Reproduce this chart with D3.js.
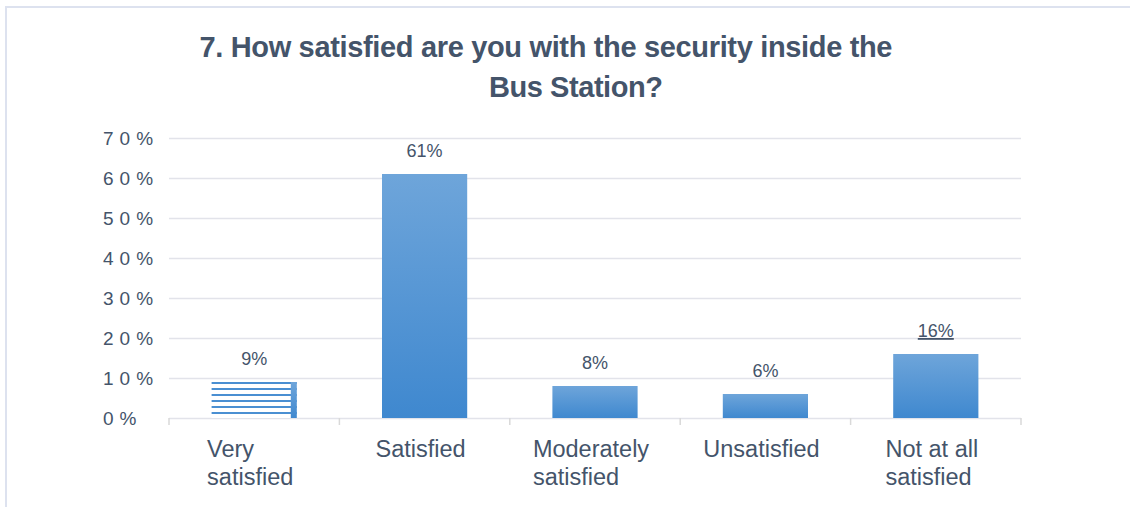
<!DOCTYPE html>
<html>
<head>
<meta charset="utf-8">
<script src="https://cdn.jsdelivr.net/npm/d3@7"></script>
<style>
  html, body { margin: 0; padding: 0; background: #ffffff; }
  svg { display: block; }
  text { font-family: "Liberation Sans", Arial, sans-serif; fill: #44546a; }
</style>
</head>
<body>
<svg id="chart" width="1130" height="507"></svg>
<script>
// Survey answers and their shares (percent)
const categories = [["Very", "satisfied"], ["Satisfied"], ["Moderately", "satisfied"], ["Unsatisfied"], ["Not at all", "satisfied"]];
const values = [9, 61, 8, 6, 16];
const yTicks = [0, 10, 20, 30, 40, 50, 60, 70];
const titleLines = ["7. How satisfied are you with the security inside the", "Bus Station?"];

const W = 1130, H = 507;
const plot = { left: 169, right: 1021, top: 138, bottom: 418 };

const svg = d3.select("#chart");

// Frame around the chart area
svg.append("rect").attr("width", W).attr("height", H).style("fill", "#ffffff");
svg.append("path")
  .attr("d", `M6,${H} L6,7 L${W},7`)
  .style("fill", "none")
  .attr("stroke", "#dde2ef").attr("stroke-width", 2);

const keys = categories.map(c => c.join(" "));
const x = d3.scaleBand().domain(keys).range([plot.left, plot.right]).paddingInner(0.5).paddingOuter(0.25);
const y = d3.scaleLinear().domain([0, 70]).range([plot.bottom, plot.top]);

// Gradient and stripe fills
const defs = svg.append("defs");
const grad = defs.append("linearGradient").attr("id", "barGrad")
  .attr("x1", 0).attr("y1", 0).attr("x2", 0).attr("y2", 1);
grad.append("stop").attr("offset", "0%").attr("stop-color", "#6ea5da");
grad.append("stop").attr("offset", "100%").attr("stop-color", "#3f88cf");

const stripes = defs.append("pattern").attr("id", "stripes")
  .attr("patternUnits", "userSpaceOnUse").attr("width", 10).attr("height", 6)
  .attr("y", plot.bottom);
stripes.append("rect").attr("width", 10).attr("height", 6).style("fill", "#ffffff");
stripes.append("rect").attr("width", 10).attr("height", 2).style("fill", "#4a8fd2");

// Horizontal gridlines and y axis
const yAxis = d3.axisLeft(y).tickValues(yTicks).tickFormat(d => d + "%")
  .tickSize(-(plot.right - plot.left)).tickPadding(0);
const gy = svg.append("g").attr("transform", `translate(${plot.left},0)`).call(yAxis);
gy.select(".domain").remove();
gy.selectAll(".tick line").attr("stroke", "#e2e3ea").attr("stroke-width", 1.5);
gy.selectAll(".tick text")
  .attr("text-anchor", "start")
  .attr("x", 103 - plot.left)
  .attr("dy", "0.35em")
  .style("font-size", "19px")
  .style("letter-spacing", "6px")
  .style("font-family", "'Liberation Sans', Arial, sans-serif")
  .style("fill", "#44546a");

// Category boundary ticks along the baseline
const bounds = keys.map(k => x(k) - x.step() * x.paddingInner() / 2).concat([plot.right]);
svg.append("g").selectAll("line").data(bounds).join("line")
  .attr("x1", d => d).attr("x2", d => d)
  .attr("y1", plot.bottom).attr("y2", plot.bottom + 7)
  .attr("stroke", "#d9d9d9").attr("stroke-width", 1.5);

// Bars
const bars = svg.append("g");
bars.selectAll("rect").data(values).join("rect")
  .attr("x", (d, i) => x(keys[i]))
  .attr("y", d => y(d))
  .attr("width", x.bandwidth())
  .attr("height", d => plot.bottom - y(d))
  .style("fill", (d, i) => i === 0 ? "url(#stripes)" : "url(#barGrad)");
// solid right edge on the striped bar
bars.append("rect")
  .attr("x", x(keys[0]) + x.bandwidth() - 6)
  .attr("y", y(values[0]))
  .attr("width", 6)
  .attr("height", plot.bottom - y(values[0]))
  .style("fill", "url(#barGrad)");

// Value labels
const labels = svg.append("g").selectAll("text").data(values).join("text")
  .attr("x", (d, i) => x(keys[i]) + x.bandwidth() / 2)
  .attr("y", d => y(d) - 17)
  .attr("text-anchor", "middle")
  .style("font-size", "18px")
  .text(d => d + "%");
labels.filter((d, i) => i === values.length - 1)
  .style("text-decoration", "underline");

// Category labels: wrapped lines, left-aligned block centred on the band
const catG = svg.append("g");
categories.forEach((lines, i) => {
  const g = catG.append("g");
  const t = g.selectAll("text").data(lines).join("text")
    .attr("y", (d, j) => 457 + j * 28)
    .style("font-size", "23.5px")
    .text(d => d);
  let maxW = 0;
  t.each(function () { maxW = Math.max(maxW, this.getComputedTextLength()); });
  const cx = x(keys[i]) + x.bandwidth() / 2;
  t.attr("x", cx - maxW / 2 - 4);
});

// Title
const titleX = [546, 576];
const titleW = [693, 174];
const titleY = [57, 97];
svg.append("g").selectAll("text").data(titleLines).join("text")
  .attr("x", (d, i) => titleX[i])
  .attr("y", (d, i) => titleY[i])
  .attr("text-anchor", "middle")
  .attr("textLength", (d, i) => titleW[i])
  .attr("lengthAdjust", "spacing")
  .style("font-size", "29px")
  .style("font-weight", "bold")
  .text(d => d);
</script>
</body>
</html>
